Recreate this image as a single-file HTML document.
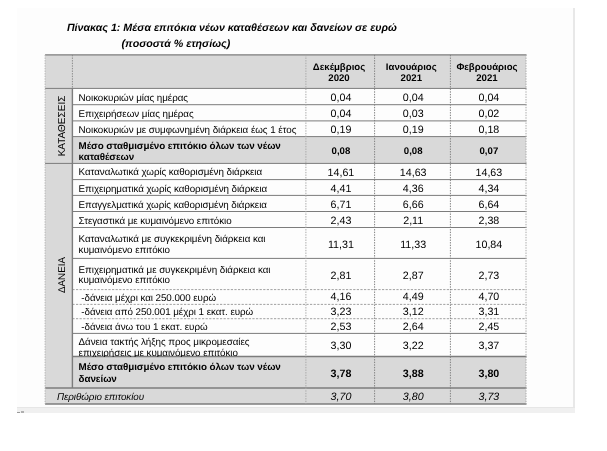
<!DOCTYPE html><html lang="el"><head><meta charset="utf-8"><title>Πίνακας 1</title><style>
html,body{margin:0;padding:0;background:#fff}
body{width:607px;height:451px;position:relative;overflow:hidden;font-family:"Liberation Sans",Arial,sans-serif;font-size:9.8px;color:#000}
body{text-rendering:geometricPrecision}
div{position:absolute;box-sizing:border-box}
svg{position:absolute;left:0;top:0}
.t{font-weight:bold;font-style:italic;font-size:10.67px;white-space:nowrap;color:#000;line-height:12px;height:12px}
.g{background:#d9d9d9}
.l{white-space:nowrap;line-height:11px;height:11px;letter-spacing:-0.05px}
.n{text-align:center;white-space:nowrap;font-size:10.7px;line-height:12px;height:12px}
.n.sm{font-size:9.65px}
.b{font-weight:bold}.i{font-style:italic}
.r{white-space:nowrap;transform:rotate(-90deg);transform-origin:center center;text-align:center}

</style></head><body>
<div style="left:17px;top:8px;width:556px;height:399px;background:#fdfdfd"></div>
<div style="left:572.8px;top:8px;width:2.3px;height:400px;background:#e8e8e8"></div>
<div style="left:17px;top:406.5px;width:558px;height:6.5px;background:#f0f0f0;border-top:1px solid #e6e6e6"></div>
<div style="left:17px;top:412px;width:3px;height:1px;background:#9a9a9a"></div><div style="left:21px;top:411px;width:3px;height:2px;background:#b0b0b0"></div>
<div class="t" style="left:66.9px;top:22px">Πίνακας 1: Μέσα επιτόκια νέων καταθέσεων και δανείων σε ευρώ</div>
<div class="t" style="left:121.5px;top:38px">(ποσοστά % ετησίως)</div>
<svg width="607" height="451" viewBox="0 0 607 451"><rect x="45.1" y="54.9" width="480.9" height="33.5" fill="#d9d9d9"/><rect x="45.1" y="88.4" width="27.3" height="299.5" fill="#d9d9d9"/><rect x="45.1" y="387.9" width="480.9" height="16.1" fill="#d9d9d9"/><rect x="72.4" y="136.6" width="453.6" height="26.8" fill="#d9d9d9"/><rect x="72.4" y="356.6" width="453.6" height="31.3" fill="#d9d9d9"/><line x1="45.1" y1="54.90" x2="526.5" y2="54.90" stroke="#7c7c7c" stroke-width="1.3"/><line x1="45.1" y1="88.40" x2="526.5" y2="88.40" stroke="#7c7c7c" stroke-width="1.0"/><line x1="72.4" y1="104.70" x2="526.5" y2="104.70" stroke="#7c7c7c" stroke-width="1.0"/><line x1="72.4" y1="120.90" x2="526.5" y2="120.90" stroke="#7c7c7c" stroke-width="1.0"/><line x1="72.4" y1="136.60" x2="526.5" y2="136.60" stroke="#7c7c7c" stroke-width="1.0"/><line x1="45.1" y1="163.40" x2="526.5" y2="163.40" stroke="#7c7c7c" stroke-width="1.0"/><line x1="72.4" y1="179.60" x2="526.5" y2="179.60" stroke="#7c7c7c" stroke-width="1.0"/><line x1="72.4" y1="195.40" x2="526.5" y2="195.40" stroke="#7c7c7c" stroke-width="1.0"/><line x1="72.4" y1="211.50" x2="526.5" y2="211.50" stroke="#7c7c7c" stroke-width="1.0"/><line x1="72.4" y1="227.50" x2="526.5" y2="227.50" stroke="#7c7c7c" stroke-width="1.0"/><line x1="72.4" y1="258.40" x2="526.5" y2="258.40" stroke="#7c7c7c" stroke-width="1.0"/><line x1="72.4" y1="289.60" x2="526.5" y2="289.60" stroke="#969696" stroke-width="0.9" stroke-dasharray="2.2 1.4"/><line x1="72.4" y1="304.40" x2="526.5" y2="304.40" stroke="#969696" stroke-width="0.9" stroke-dasharray="2.2 1.4"/><line x1="72.4" y1="318.70" x2="526.5" y2="318.70" stroke="#969696" stroke-width="0.9" stroke-dasharray="2.2 1.4"/><line x1="72.4" y1="333.40" x2="526.5" y2="333.40" stroke="#7c7c7c" stroke-width="1.0"/><line x1="72.4" y1="356.60" x2="526.5" y2="356.60" stroke="#7c7c7c" stroke-width="1.5"/><line x1="45.1" y1="387.90" x2="526.5" y2="387.90" stroke="#7c7c7c" stroke-width="1.5"/><line x1="45.1" y1="404.00" x2="526.5" y2="404.00" stroke="#7c7c7c" stroke-width="1.5"/><line x1="45.10" y1="54.9" x2="45.10" y2="404.0" stroke="#b4b4b4" stroke-width="1" stroke-dasharray="1.4 1.2"/><line x1="72.40" y1="54.9" x2="72.40" y2="88.4" stroke="#8a8a8a" stroke-width="1" stroke-dasharray="1.4 1.2"/><line x1="72.40" y1="88.4" x2="72.40" y2="387.9" stroke="#7c7c7c" stroke-width="1.4"/><line x1="305.90" y1="54.9" x2="305.90" y2="404.0" stroke="#a8a8a8" stroke-width="1" stroke-dasharray="1.4 1.2"/><line x1="374.60" y1="54.9" x2="374.60" y2="404.0" stroke="#808080" stroke-width="1" stroke-dasharray="1.4 1.2"/><line x1="450.40" y1="54.9" x2="450.40" y2="404.0" stroke="#808080" stroke-width="1" stroke-dasharray="1.4 1.2"/><line x1="526.00" y1="54.9" x2="526.00" y2="404.0" stroke="#a8a8a8" stroke-width="1" stroke-dasharray="1.4 1.2"/></svg>
<div class="n b sm" style="left:304.7px;top:62px;width:68.7px">Δεκέμβριος</div>
<div class="n b sm" style="left:304.7px;top:73px;width:68.7px">2020</div>
<div class="n b sm" style="left:373.4px;top:62px;width:75.8px">Ιανουάριος</div>
<div class="n b sm" style="left:373.4px;top:73px;width:75.8px">2021</div>
<div class="n b sm" style="left:449.2px;top:62px;width:75.6px">Φεβρουάριος</div>
<div class="n b sm" style="left:449.2px;top:73px;width:75.6px">2021</div>
<div class="l" style="left:78.6px;top:93px;">Νοικοκυριών μίας ημέρας</div>
<div class="n" style="left:306.6px;top:92px;width:68.7px">0,04</div>
<div class="n" style="left:375.3px;top:92px;width:75.8px">0,04</div>
<div class="n" style="left:451.1px;top:92px;width:75.6px">0,04</div>
<div class="l" style="left:78.6px;top:109px;">Επιχειρήσεων μίας ημέρας</div>
<div class="n" style="left:306.6px;top:108px;width:68.7px">0,04</div>
<div class="n" style="left:375.3px;top:108px;width:75.8px">0,03</div>
<div class="n" style="left:451.1px;top:108px;width:75.6px">0,02</div>
<div class="l" style="left:78.6px;top:125px;">Νοικοκυριών με συμφωνημένη διάρκεια έως 1 έτος</div>
<div class="n" style="left:306.6px;top:124px;width:68.7px">0,19</div>
<div class="n" style="left:375.3px;top:124px;width:75.8px">0,19</div>
<div class="n" style="left:451.1px;top:124px;width:75.6px">0,18</div>
<div class="l b" style="left:78.6px;top:141px;">Μέσο σταθμισμένο επιτόκιο όλων των νέων</div>
<div class="l b" style="left:78.6px;top:152px;">καταθέσεων</div>
<div class="n b sm" style="left:306.6px;top:146px;width:68.7px">0,08</div>
<div class="n b sm" style="left:375.3px;top:146px;width:75.8px">0,08</div>
<div class="n b sm" style="left:451.1px;top:146px;width:75.6px">0,07</div>
<div class="l" style="left:78.6px;top:167px;">Καταναλωτικά χωρίς καθορισμένη διάρκεια</div>
<div class="n" style="left:306.6px;top:167px;width:68.7px">14,61</div>
<div class="n" style="left:375.3px;top:167px;width:75.8px">14,63</div>
<div class="n" style="left:451.1px;top:167px;width:75.6px">14,63</div>
<div class="l" style="left:78.6px;top:184px;">Επιχειρηματικά χωρίς καθορισμένη διάρκεια</div>
<div class="n" style="left:306.6px;top:183px;width:68.7px">4,41</div>
<div class="n" style="left:375.3px;top:183px;width:75.8px">4,36</div>
<div class="n" style="left:451.1px;top:183px;width:75.6px">4,34</div>
<div class="l" style="left:78.6px;top:200px;">Επαγγελματικά χωρίς καθορισμένη διάρκεια</div>
<div class="n" style="left:306.6px;top:199px;width:68.7px">6,71</div>
<div class="n" style="left:375.3px;top:199px;width:75.8px">6,66</div>
<div class="n" style="left:451.1px;top:199px;width:75.6px">6,64</div>
<div class="l" style="left:78.6px;top:216px;">Στεγαστικά με κυμαινόμενο επιτόκιο</div>
<div class="n" style="left:306.6px;top:215px;width:68.7px">2,43</div>
<div class="n" style="left:375.3px;top:215px;width:75.8px">2,11</div>
<div class="n" style="left:451.1px;top:215px;width:75.6px">2,38</div>
<div class="l" style="left:78.6px;top:234px;">Καταναλωτικά με συγκεκριμένη διάρκεια και</div>
<div class="l" style="left:78.6px;top:245px;">κυμαινόμενο επιτόκιο</div>
<div class="n" style="left:306.6px;top:239px;width:68.7px">11,31</div>
<div class="n" style="left:375.3px;top:239px;width:75.8px">11,33</div>
<div class="n" style="left:451.1px;top:239px;width:75.6px">10,84</div>
<div class="l" style="left:78.6px;top:265px;">Επιχειρηματικά με συγκεκριμένη διάρκεια και</div>
<div class="l" style="left:78.6px;top:275px;">κυμαινόμενο επιτόκιο</div>
<div class="n" style="left:306.6px;top:270px;width:68.7px">2,81</div>
<div class="n" style="left:375.3px;top:270px;width:75.8px">2,87</div>
<div class="n" style="left:451.1px;top:270px;width:75.6px">2,73</div>
<div class="l" style="left:81.3px;top:293px;">-δάνεια μέχρι και 250.000 ευρώ</div>
<div class="n" style="left:306.6px;top:291px;width:68.7px">4,16</div>
<div class="n" style="left:375.3px;top:291px;width:75.8px">4,49</div>
<div class="n" style="left:451.1px;top:291px;width:75.6px">4,70</div>
<div class="l" style="left:81.3px;top:307px;">-δάνεια από 250.001 μέχρι 1 εκατ. ευρώ</div>
<div class="n" style="left:306.6px;top:306px;width:68.7px">3,23</div>
<div class="n" style="left:375.3px;top:306px;width:75.8px">3,12</div>
<div class="n" style="left:451.1px;top:306px;width:75.6px">3,31</div>
<div class="l" style="left:81.3px;top:322px;">-δάνεια άνω του 1 εκατ. ευρώ</div>
<div class="n" style="left:306.6px;top:321px;width:68.7px">2,53</div>
<div class="n" style="left:375.3px;top:321px;width:75.8px">2,64</div>
<div class="n" style="left:451.1px;top:321px;width:75.6px">2,45</div>
<div class="l" style="left:78.6px;top:337px;">Δάνεια τακτής λήξης προς μικρομεσαίες</div>
<div class="l" style="left:78.6px;top:348px;height:8.6px;overflow:hidden;">επιχειρήσεις με κυμαινόμενο επιτόκιο</div>
<div class="n" style="left:306.6px;top:340px;width:68.7px">3,30</div>
<div class="n" style="left:375.3px;top:340px;width:75.8px">3,22</div>
<div class="n" style="left:451.1px;top:340px;width:75.6px">3,37</div>
<div class="l b" style="left:78.6px;top:362px;">Μέσο σταθμισμένο επιτόκιο όλων των νέων</div>
<div class="l b" style="left:78.6px;top:374px;">δανείων</div>
<div class="n b" style="left:306.6px;top:368px;width:68.7px">3,78</div>
<div class="n b" style="left:375.3px;top:368px;width:75.8px">3,88</div>
<div class="n b" style="left:451.1px;top:368px;width:75.6px">3,80</div>
<div class="l i" style="left:57.0px;top:392px;">Περιθώριο επιτοκίου</div>
<div class="n i" style="left:306.6px;top:391px;width:68.7px">3,70</div>
<div class="n i" style="left:375.3px;top:391px;width:75.8px">3,80</div>
<div class="n i" style="left:451.1px;top:391px;width:75.6px">3,73</div>
<div class="r" style="left:13.3px;top:120.2px;width:100px;height:12px;line-height:12px;font-size:10px">ΚΑΤΑΘΕΣΕΙΣ</div>
<div class="r" style="left:13.3px;top:268.8px;width:100px;height:12px;line-height:12px;font-size:9.8px">ΔΑΝΕΙΑ</div>
</body></html>
